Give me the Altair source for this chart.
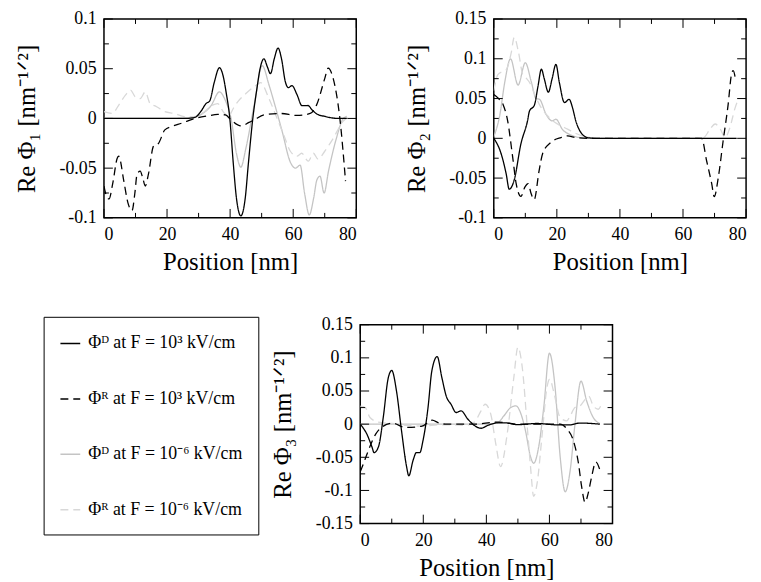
import altair as alt
import pandas as pd

# ---------------- series definitions ----------------
LABELS = ["Φᴰ at F = 10³ kV/cm", "Φᴿ at F = 10³ kV/cm",
          "Φᴰ at F = 10⁻⁶ kV/cm", "Φᴿ at F = 10⁻⁶ kV/cm"]
COLORS = ["#000000", "#000000", "#c4c4c4", "#d8d8d8"]
DASHES = [[1, 0], [8, 5], [1, 0], [8, 5]]

# ---------------- panel 1 : Re Phi_1 ----------------
p1_D3_x = [0, 10, 20, 26, 28.8, 30.8, 32.4, 33.5, 35, 36.6, 37.6, 38.8, 39.9, 41, 42, 43.4, 44.8, 45.8,
           47.2, 48.5, 49.5, 50.7, 51.8, 52.8, 54, 55.2, 56.3, 57.5, 58.5, 59.6, 61.2, 62.8, 64.7, 66,
           67.5, 70.1, 74.3, 77]
p1_D3_y = [0, 0, 0, 0, 0.001, 0.0074, 0.0151, 0.0174, 0.0366, 0.051, 0.045, 0.025, 0, -0.045, -0.08,
           -0.098, -0.08, -0.045, 0, 0.03, 0.05, 0.06, 0.052, 0.045, 0.06, 0.0708, 0.06, 0.037, 0.031,
           0.033, 0.024, 0.0128, 0.013, 0.0085, 0.0045, 0.002, 0, 0]
p1_R3_x = [0, 0.5, 1.6, 2.8, 4.2, 4.7, 6.3, 7.6, 8.9, 9.8, 10.5, 11.5, 12.3, 13.1, 14.1, 15.7, 17.3,
           19.3, 21.4, 24.6, 28.8, 32.9, 36.1, 38.5, 40.3, 43.4, 46, 47.6, 50.7, 56, 61.2, 65.4, 67.4,
           70, 71.1, 72.7, 74.8, 76.6]
p1_R3_y = [-0.068, -0.075, -0.081, -0.065, -0.040, -0.038, -0.063, -0.085, -0.0927, -0.075, -0.056,
           -0.0529, -0.06, -0.068, -0.056, -0.028, -0.025, -0.0115, -0.0082, -0.0048, 0, 0.0026,
           0.0040, 0.0035, -0.0015, -0.0075, -0.004, -0.0015, 0.0035, 0.005, 0.003, 0.005, 0.0134,
           0.04, 0.0506, 0.04, 0, -0.063]
p1_D6_x = [0, 10, 20, 28, 30.8, 34, 36.6, 38.5, 40.3, 42, 43.4, 45, 47.6, 50.2, 52.3, 53.9, 56.5,
           59.1, 60.7, 62.2, 63.6, 65.1, 66.5, 67.5, 68.5, 69.8, 71.2, 73.7, 75.9, 77]
p1_D6_y = [0, 0, 0, 0.001, 0.004, 0.013, 0.0267, 0.018, 0, -0.035, -0.049, -0.03, 0.013, 0.053,
           0.034, 0.0168, -0.013, -0.044, -0.05, -0.047, -0.075, -0.097, -0.08, -0.062, -0.058,
           -0.075, -0.053, -0.02, 0, 0.002]
p1_R6_x = [0, 2.6, 4.7, 6.8, 8.4, 9.9, 11.5, 13.1, 14.6, 16.7, 19.3, 22.4, 25.5, 28.6, 31.8, 34.4,
           36, 38, 39.5, 41, 42.4, 45, 48.1, 49.7, 52.3, 54.9, 57, 59.1, 61.2, 62.7, 64.8, 66.4, 67.9,
           70, 72.7, 75.8, 77.9]
p1_R6_y = [0.0068, 0.005, 0.0135, 0.0234, 0.0284, 0.0218, 0.02, 0.0267, 0.0151, 0.0118, 0.0068,
           0.005, 0.0018, 0.0018, 0.0068, 0.0134, 0.015, 0.006, 0.002, 0.01, 0.0167, 0.025, 0.033,
           0.036, 0.02, 0, -0.0165, -0.033, -0.038, -0.035, -0.043, -0.035, -0.041, -0.033, -0.02,
           -0.003, 0.002]

# ---------------- panel 2 : Re Phi_2 ----------------
p2_D3_x = [0, 2.3, 3.9, 4.9, 6.5, 8.6, 10.7, 11.3, 12.9, 14, 15.1, 16, 17.3, 18.5, 19.7, 20.8, 22.4,
           23.9, 25, 26, 27.6, 29.7, 32, 40, 50, 60, 70, 77]
p2_D3_y = [0, -0.019, -0.044, -0.064, -0.052, -0.007, 0.022, 0.034, 0.042, 0.065, 0.087, 0.075,
           0.058, 0.075, 0.093, 0.07, 0.045, 0.049, 0.038, 0.022, 0.0074, 0.001, 0, 0, 0, 0, 0, 0]
p2_R3_x = [0, 1.5, 3, 4.4, 6, 7.1, 8.6, 9.9, 10.9, 11.8, 12.8, 14.4, 15.5, 18.1, 21.3, 23.4, 26, 30,
           40, 50, 60, 65.9, 67.5, 69.1, 69.9, 71.2, 72.7, 74.3, 75.4, 75.9, 76.7]
p2_R3_y = [0.055, 0.05, 0.042, 0.022, -0.024, -0.057, -0.073, -0.061, -0.057, -0.069, -0.077, -0.04,
           -0.019, -0.005, 0.001, 0.003, 0.001, 0, 0, 0, 0, 0, -0.0285, -0.057, -0.0734, -0.049,
           -0.004, 0.042, 0.081, 0.085, 0.073]
p2_D6_x = [0, 1.9, 3.5, 5.3, 7.7, 10, 11.9, 13.4, 14.5, 16.6, 18.5, 19.7, 21.8, 24, 26, 30, 40, 60, 77]
p2_D6_y = [0.002, 0.029, 0.071, 0.1, 0.067, 0.095, 0.071, 0.05, 0.049, 0.03, 0.022, 0.024, 0.011,
           0.005, 0.002, 0, 0, 0, 0]
p2_R6_x = [0, 1.3, 2.8, 3.9, 5.5, 6.5, 7.8, 9.2, 10.2, 11.8, 12.8, 14.4, 17.1, 20.2, 23.4, 26.5,
           30.7, 40, 60, 66.5, 68.6, 70.2, 71.8, 73.4, 74.9, 76.5, 77.6]
p2_R6_y = [0.06, 0.08, 0.084, 0.086, 0.107, 0.127, 0.109, 0.08, 0.076, 0.067, 0.057, 0.043, 0.028,
           0.018, 0.0116, 0.0054, 0.001, 0, 0, 0.001, 0.0116, 0.018, 0.0116, 0.001, 0.014, 0.038, 0.05]

# ---------------- panel 3 : Re Phi_3 ----------------
p3_D3_x = [0, 2.1, 3.7, 4.4, 5.8, 7.3, 8.9, 10, 11.5, 13.1, 14.7, 15.4, 16.8, 17.8, 18.9, 19.9, 21.5,
           22.7, 24.4, 25.9, 27.3, 28.8, 30.4, 32, 34.1, 36.2, 38.3, 40.4, 43.5, 46, 49.8, 56, 62.4,
           66.6, 69.7, 76]
p3_D3_y = [0, -0.015, -0.034, -0.043, -0.034, 0.01, 0.07, 0.081, 0.05, -0.01, -0.064, -0.078,
           -0.054, -0.043, -0.043, -0.025, 0.025, 0.08, 0.102, 0.07, 0.042, 0.03, 0.0176, 0.02,
           0.0077, -0.002, -0.0062, -0.002, 0.002, 0.002, -0.0008, 0.001, -0.001, -0.001, 0.0017, 0]
p3_R3_x = [0, 1, 2.4, 4.9, 7, 10.2, 14.4, 19.6, 22.8, 24.9, 27, 30.9, 36, 43.5, 50, 58, 63.4, 65.5,
           67.6, 69.2, 70.2, 71.3, 72.3, 73.4, 74.7, 76]
p3_R3_y = [-0.072, -0.06, -0.042, -0.015, -0.004, 0.0013, -0.005, -0.003, 0.006, 0.002, 0, 0, 0,
           0.003, 0, 0, 0, -0.007, -0.025, -0.059, -0.094, -0.118, -0.104, -0.079, -0.057, -0.069]
p3_D6_x = [0, 10, 20, 30, 40, 43.5, 45.6, 47.7, 49.4, 50.8, 52.4, 54, 55, 56.6, 58.2, 60, 61.8, 63.4,
           65, 66.6, 68.1, 70, 71.8, 73.9, 76]
p3_D6_y = [0, 0, 0, 0, 0, 0.002, 0.0127, 0.025, 0.0276, 0.0176, -0.01, -0.049, -0.059, -0.034,
           0.025, 0.107, 0.055, -0.049, -0.102, -0.069, 0, 0.065, 0.035, 0.01, 0.001]
p3_R6_x = [0, 1.6, 3.1, 5.8, 10, 15, 20, 25, 30, 33, 36.2, 38.3, 39.6, 41.4, 43, 44.5, 46.6, 48.7, 50,
           51.4, 52.9, 54, 55, 56.1, 57.7, 59.2, 60.1, 61.3, 63.4, 65.5, 66.6, 68.1, 69.7, 71.8, 72.5,
           73.9, 75.5, 76.5]
p3_R6_y = [0.027, 0.025, 0.01, 0.003, 0.001, -0.002, -0.003, -0.001, -0.001, -0.002, 0.003, 0.02,
           0.03, 0.015, -0.03, -0.064, -0.015, 0.07, 0.116, 0.085, 0, -0.064, -0.109, -0.089,
           -0.015, 0.055, 0.068, 0.05, 0.01, 0.005, 0.0127, 0.025, 0.0275, 0.04, 0.042, 0.0275,
           0.0225, 0.03]

# ---------------- axes ----------------
X_MAJOR = [0, 20, 40, 60, 80]
X_MINOR = [10, 30, 50, 70]
P1_Y = [-0.1, -0.05, 0, 0.05, 0.1]
P1_YM = [-0.075, -0.025, 0.025, 0.075]
P2_Y = [-0.1, -0.05, 0, 0.05, 0.1, 0.15]
P2_YM = [-0.075, -0.025, 0.025, 0.075, 0.125]
P3_Y = [-0.15, -0.1, -0.05, 0, 0.05, 0.1, 0.15]
P3_YM = [-0.125, -0.075, -0.025, 0.025, 0.075, 0.125]

W, H = 255, 201
FONT = "'Liberation Serif', 'Times New Roman', Times, serif"

LEG = alt.Legend(title=None, orient="none", legendX=-61, legendY=301,
                 symbolType="stroke", symbolSize=400, symbolStrokeWidth=1.5,
                 labelFont=FONT, labelFontSize=18, labelColor="black", labelLimit=400,
                 labelOffset=7, strokeColor="black", fillColor="white",
                 padding=16, rowPadding=36)

AX_STYLE = dict(grid=False, ticks=False, tickSize=0, domain=False,
                labelFont=FONT, labelFontSize=18, labelColor="black",
                titleFont=FONT, titleFontSize=25, titleFontWeight="normal", titleColor="black",
                labelExpr="toString(datum.value)")


def panel(series, ydom, ymaj, ymin, ytitle):
    rows = []
    for lab, (xs, ys) in zip(LABELS, series):
        for x, y in zip(xs, ys):
            rows.append({"x": x, "y": y, "series": lab})
    df = pd.DataFrame(rows)
    xsc = alt.Scale(domain=[0, 80], nice=False, zero=False)
    ysc = alt.Scale(domain=ydom, nice=False, zero=False)
    xax = alt.Axis(values=X_MAJOR, title="Position [nm]", labelPadding=8, titlePadding=6, **AX_STYLE)
    yax = alt.Axis(values=ymaj, title=ytitle, labelPadding=8, titlePadding=20, **AX_STYLE)
    enc = dict(
        x=alt.X("x:Q", scale=xsc, axis=xax),
        y=alt.Y("y:Q", scale=ysc, axis=yax),
        color=alt.Color("series:N", scale=alt.Scale(domain=LABELS, range=COLORS), legend=LEG),
        strokeDash=alt.StrokeDash("series:N", scale=alt.Scale(domain=LABELS, range=DASHES), legend=LEG),
    )
    base = alt.Chart(df).mark_line(strokeWidth=1.3, interpolate="monotone", clip=True)
    gray = base.transform_filter(alt.FieldOneOfPredicate(field="series", oneOf=LABELS[2:])).encode(**enc)
    black = base.transform_filter(alt.FieldOneOfPredicate(field="series", oneOf=LABELS[:2])).encode(**enc)

    layers = [gray, black]
    for vals, ln in ((X_MAJOR, 9), (X_MINOR, 5)):
        t = alt.Chart(pd.DataFrame({"x": vals})).mark_rule(color="black", strokeWidth=1)
        xe = alt.X("x:Q", scale=xsc, axis=xax)
        layers.append(t.encode(x=xe, y=alt.value(H), y2=alt.value(H - ln)))
        layers.append(t.encode(x=xe, y=alt.value(0), y2=alt.value(ln)))
    for vals, ln in ((ymaj, 9), (ymin, 5)):
        t = alt.Chart(pd.DataFrame({"y": vals})).mark_rule(color="black", strokeWidth=1)
        ye = alt.Y("y:Q", scale=ysc, axis=yax)
        layers.append(t.encode(y=ye, x=alt.value(0), x2=alt.value(ln)))
        layers.append(t.encode(y=ye, x=alt.value(W), x2=alt.value(W - ln)))
    return alt.layer(*layers).properties(width=W, height=H)


p1 = panel([(p1_D3_x, p1_D3_y), (p1_R3_x, p1_R3_y), (p1_D6_x, p1_D6_y), (p1_R6_x, p1_R6_y)],
           [-0.1, 0.1], P1_Y, P1_YM, "Re Φ₁ [nm⁻¹ᐟ²]")
p2 = panel([(p2_D3_x, p2_D3_y), (p2_R3_x, p2_R3_y), (p2_D6_x, p2_D6_y), (p2_R6_x, p2_R6_y)],
           [-0.1, 0.15], P2_Y, P2_YM, "Re Φ₂ [nm⁻¹ᐟ²]")
p3 = panel([(p3_D3_x, p3_D3_y), (p3_R3_x, p3_R3_y), (p3_D6_x, p3_D6_y), (p3_R6_x, p3_R6_y)],
           [-0.15, 0.15], P3_Y, P3_YM, "Re Φ₃ [nm⁻¹ᐟ²]")

spacer = alt.Chart(pd.DataFrame({"s": [0]})).mark_point(opacity=0).encode(
    x=alt.X("s:Q", axis=None), y=alt.Y("s:Q", axis=None)
).properties(width=8, height=H, view=alt.ViewBackground(stroke="transparent"))

row1 = alt.hconcat(p1, p2, spacing=139, bounds="flush")
row2 = alt.hconcat(spacer, p3, spacing=251, bounds="flush")

chart = alt.vconcat(row1, row2, spacing=40).properties(
    padding={"left": 5, "top": -2, "right": 5, "bottom": 5}
).configure_view(stroke="black", strokeWidth=1.5)

chart.save("out.html", embed_options={"renderer": "svg", "actions": False})
